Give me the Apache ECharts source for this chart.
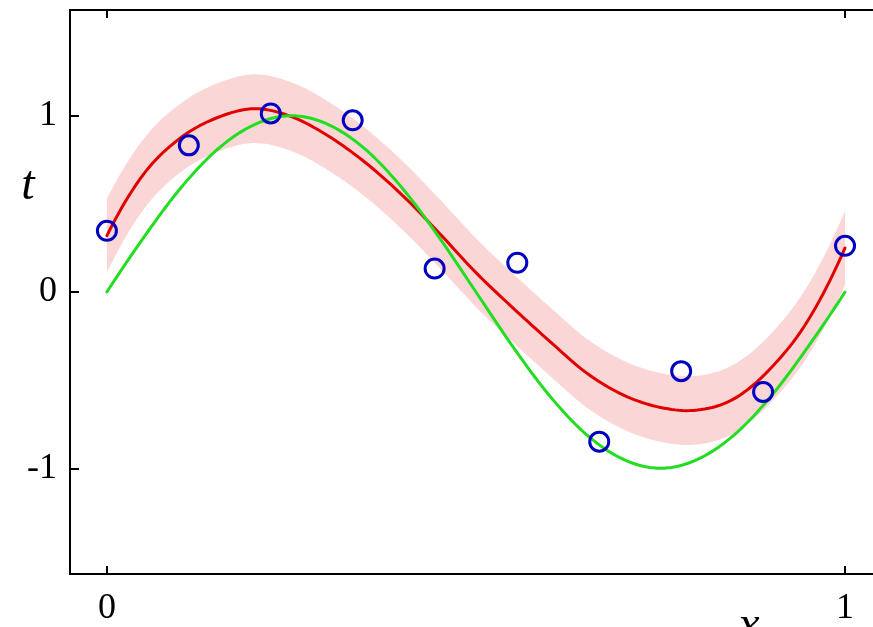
<!DOCTYPE html>
<html>
<head>
<meta charset="utf-8">
<script src="https://cdn.jsdelivr.net/npm/echarts@6/dist/echarts.min.js"></script>
<style>
html,body{margin:0;padding:0;background:#fff;}
#chart{width:873px;height:627px;}
</style>
</head>
<body>
<div id="chart"></div>
<script>
// x positions of the curves
const curveX = [0,0.05,0.10,0.15,0.20,0.25,0.30,0.35,0.40,0.45,0.50,0.55,0.60,0.65,0.70,0.75,0.80,0.85,0.90,0.95,1.00];
// red predictive mean
const redMean = [0.32,0.67,0.875,0.99,1.04,0.995,0.885,0.735,0.55,0.335,0.11,-0.09,-0.28,-0.46,-0.585,-0.655,-0.67,-0.605,-0.43,-0.16,0.25];
// pink band edges
const bandUpper = [0.53,0.87,1.07,1.185,1.235,1.19,1.08,0.93,0.745,0.53,0.305,0.105,-0.085,-0.265,-0.39,-0.46,-0.475,-0.41,-0.235,0.04,0.46];
const bandLower = [0.11,0.47,0.68,0.795,0.845,0.80,0.69,0.54,0.355,0.14,-0.085,-0.285,-0.475,-0.655,-0.78,-0.85,-0.865,-0.80,-0.625,-0.36,0.04];
// green curve
const greenCurve = [0,0.31,0.59,0.81,0.95,1.00,0.95,0.81,0.59,0.31,0,-0.31,-0.59,-0.81,-0.95,-1.00,-0.95,-0.81,-0.59,-0.31,0];
// blue observations
const obsX = [0,0.111,0.222,0.333,0.444,0.556,0.667,0.778,0.889,1.0];
const obsT = [0.347,0.832,1.013,0.974,0.133,0.166,-0.849,-0.449,-0.567,0.262];
// ticks
const xTicks = [0,1];
const yTicks = [-1,0,1];
const xTickLabels = ['0','1'];
const yTickLabels = ['-1','0','1'];

const pair = (xs, ys) => xs.map((x,i)=>[x, ys[i]]);

// Rendering helper: smooth (cubic Hermite) path through the read points, in data space
function smoothPath(xs, ys, sub) {
  const n = xs.length, out = [];
  const tan = ys.map((y,i)=>{
    if (i===0) return (-3*ys[0]+4*ys[1]-ys[2])/2;
    if (i===n-1) return (3*ys[n-1]-4*ys[n-2]+ys[n-3])/2;
    return (ys[i+1]-ys[i-1])/2;
  });
  for (let i=0;i<n-1;i++){
    for (let k=0;k<sub;k++){
      const t=k/sub, t2=t*t, t3=t2*t;
      const h00=2*t3-3*t2+1, h10=t3-2*t2+t, h01=-2*t3+3*t2, h11=t3-t2;
      out.push([xs[i]+(xs[i+1]-xs[i])*t, h00*ys[i]+h10*tan[i]+h01*ys[i+1]+h11*tan[i+1]]);
    }
  }
  out.push([xs[n-1], ys[n-1]]);
  return out;
}
const redPath = smoothPath(curveX, redMean, 10);
const greenPath = smoothPath(curveX, greenCurve, 10);
const upperPath = smoothPath(curveX, bandUpper, 10);
const lowerPath = smoothPath(curveX, bandLower, 10);

function curveSeries(path, stroke, z) {
  return {type:'custom', coordinateSystem:'cartesian2d', data:[[0,0]], z:z, silent:true, clip:true,
    renderItem:(params, api)=>({type:'polyline', shape:{points:path.map(p=>api.coord(p))},
      style:{stroke:stroke, lineWidth:3, fill:null, lineJoin:'round', lineCap:'round'}})};
}

const chart = echarts.init(document.getElementById('chart'));
const serif = '"Liberation Serif", "DejaVu Serif", serif';
const axisCommon = {
  type:'value',
  z:10,
  splitLine:{show:false},
  axisLine:{show:true,onZero:false,lineStyle:{color:'#000',width:2}},
};
chart.setOption({
  animation:false,
  backgroundColor:'#fff',
  grid:{left:70, top:10, right:0, height:567, containLabel:false},
  xAxis:[
    Object.assign({}, axisCommon, {
      min:-0.05, max:1.0379, position:'bottom',
      axisTick:{show:true, inside:true, length:8, customValues:xTicks, lineStyle:{color:'#000',width:2}},
      axisLabel:{show:true, customValues:xTicks, margin:17, color:'#000', fontFamily:serif, fontSize:36,
        formatter:(v)=>xTickLabels[xTicks.indexOf(v)]}
    }),
    Object.assign({}, axisCommon, {
      min:-0.05, max:1.0379, position:'top',
      axisTick:{show:true, inside:true, length:8, customValues:xTicks, lineStyle:{color:'#000',width:2}},
      axisLabel:{show:false}
    })
  ],
  yAxis:[
    Object.assign({}, axisCommon, {
      min:-1.6, max:1.6, position:'left',
      axisTick:{show:true, inside:true, length:9, customValues:yTicks, lineStyle:{color:'#000',width:2}},
      axisLabel:{show:true, customValues:yTicks, margin:13, color:'#000', fontFamily:serif, fontSize:36,
        formatter:(v)=>yTickLabels[yTicks.indexOf(v)]}
    })
  ],
  graphic:[
    {type:'text', x:28, y:186, style:{text:'t', fill:'#000', font:'italic 48px "Liberation Serif"', align:'center', verticalAlign:'middle'}},
    {type:'text', x:749, y:626, style:{text:'x', fill:'#000', font:'italic 48px "Liberation Serif"', align:'center', verticalAlign:'middle'}}
  ],
  series:[
    {type:'custom', coordinateSystem:'cartesian2d', data:[[0,0]], z:1, silent:true, clip:true,
      renderItem:(params, api)=>({type:'polygon',
        shape:{points: upperPath.map(p=>api.coord(p)).concat(lowerPath.slice().reverse().map(p=>api.coord(p)))},
        style:{fill:'#fbd6d6', stroke:null}})},
    curveSeries(redPath, '#e00000', 3),
    curveSeries(greenPath, '#22dd22', 4),
    {type:'scatter', data:pair(obsX,obsT), symbol:'circle', symbolSize:19,
      itemStyle:{color:'rgba(0,0,0,0)', borderColor:'#0000c0', borderWidth:3, opacity:1}, z:5}
  ]
});
</script>
</body>
</html>
